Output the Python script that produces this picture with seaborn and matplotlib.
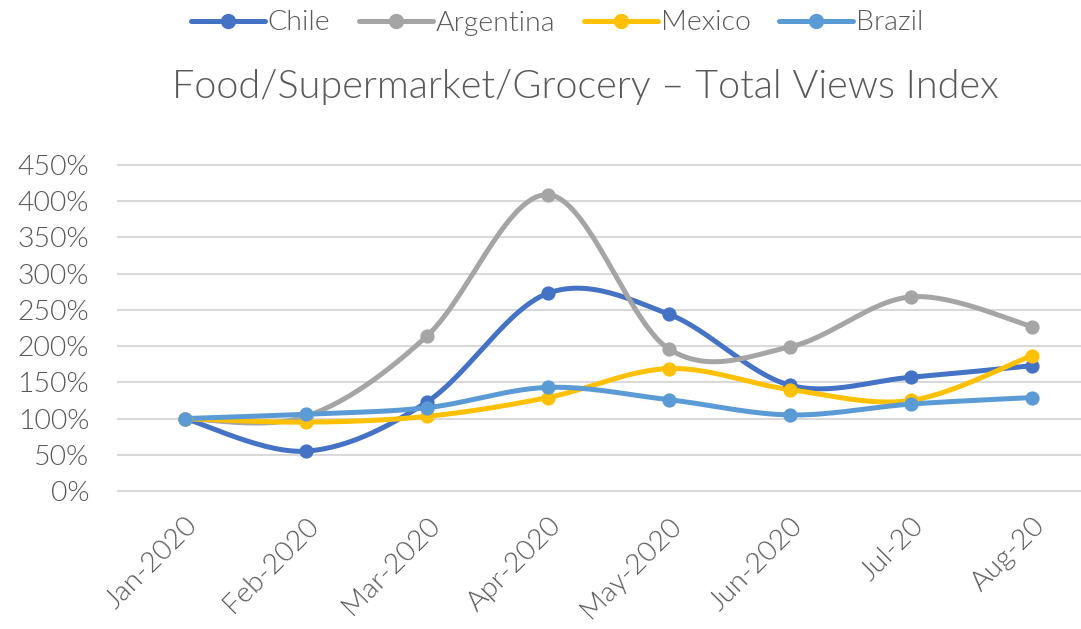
import numpy as np
import pandas as pd
import matplotlib
matplotlib.use("Agg")
import matplotlib.pyplot as plt
import seaborn as sns
from matplotlib.lines import Line2D

months = ["Jan-2020", "Feb-2020", "Mar-2020", "Apr-2020", "May-2020", "Jun-2020", "Jul-20", "Aug-20"]
chile = [1.00, 0.55, 1.23, 2.73, 2.44, 1.46, 1.57, 1.73]
argentina = [1.00, 1.03, 2.14, 4.09, 1.96, 1.99, 2.68, 2.27]
mexico = [1.00, 0.95, 1.03, 1.29, 1.69, 1.40, 1.25, 1.87]
brazil = [1.00, 1.06, 1.15, 1.43, 1.26, 1.05, 1.20, 1.29]
yticks = [0, 0.5, 1.0, 1.5, 2.0, 2.5, 3.0, 3.5, 4.0, 4.5]

series = {"Chile": chile, "Argentina": argentina, "Mexico": mexico, "Brazil": brazil}
colors = {"Chile": "#4472C4", "Argentina": "#A5A5A5", "Mexico": "#FFC000", "Brazil": "#5B9BD5"}

sns.set_style("white")
plt.rcParams["font.family"] = ["Lato", "DejaVu Sans"]
WT = 300
plt.rcParams["font.weight"] = WT
TXT = "#595959"

def smooth(x, y, n=30):
    x = np.asarray(x, float); y = np.asarray(y, float)
    P = np.column_stack([x, y])
    Pe = np.vstack([P[0], P, P[-1]])
    out = []
    for i in range(len(P) - 1):
        p0, p1, p2, p3 = Pe[i], Pe[i + 1], Pe[i + 2], Pe[i + 3]
        c1 = p1 + (p2 - p0) / 6.0
        c2 = p2 - (p3 - p1) / 6.0
        t = np.linspace(0, 1, n)[:, None]
        seg = (1 - t) ** 3 * p1 + 3 * (1 - t) ** 2 * t * c1 + 3 * (1 - t) * t ** 2 * c2 + t ** 3 * p2
        out.append(seg if i == 0 else seg[1:])
    s = np.vstack(out)
    return s[:, 0], s[:, 1]

fig = plt.figure(figsize=(10.81, 6.29), dpi=100)
W, H = 1081, 629
left_px, right_px = 117, 1081
top_px, bot_px = 161, 495
ax = fig.add_axes([left_px / W, 1 - bot_px / H, (right_px - left_px) / W, (bot_px - top_px) / H])

xpos = np.arange(len(months))
handles = []
for name, vals in series.items():
    sx, sy = smooth(xpos, vals)
    df = pd.DataFrame({"x": sx, "y": sy})
    sns.lineplot(data=df, x="x", y="y", ax=ax, color=colors[name], linewidth=3.6,
                 sort=False, estimator=None, solid_capstyle="round")
    dm = pd.DataFrame({"x": xpos, "y": vals})
    sns.scatterplot(data=dm, x="x", y="y", ax=ax, color=colors[name], s=105,
                    edgecolor=colors[name], linewidth=0, zorder=3)
    handles.append(Line2D([0], [0], color=colors[name], lw=3.6, marker="o", markersize=10,
                          label=name))

ppu = (491 - 165) / 4.5
ax.set_ylim(-(495 - 491) / ppu, 4.5 + (165 - 161) / ppu)
spacing = (1032 - 185) / 7
ax.set_xlim(-(185 - left_px) / spacing, 7 + (right_px - 1032) / spacing)
ax.set_yticks(yticks)
ax.set_yticklabels([f"{int(round(v * 100))}%" for v in yticks])
ax.set_xticks(xpos)
ax.set_xticklabels(months, rotation=45, ha="right", rotation_mode="anchor")
ax.yaxis.grid(True, color="#D9D9D9", linewidth=1.5)
ax.xaxis.grid(False)
for sp in ax.spines.values():
    sp.set_visible(False)
ax.tick_params(axis="y", length=0, labelsize=20.5, labelcolor=TXT, pad=20)
ax.tick_params(axis="x", length=0, labelsize=20.5, labelcolor=TXT, pad=13)
for lab in ax.get_xticklabels() + ax.get_yticklabels():
    lab.set_fontweight(WT)
ax.set_xlabel("")
ax.set_ylabel("")

fig.text(585 / W, 1 - 87 / H, "Food/Supermarket/Grocery \u2013 Total Views Index",
         ha="center", va="center", fontsize=28.5, color=TXT, fontweight=WT)
fig.legend(handles=handles, loc="center", bbox_to_anchor=(557 / W, 1 - 23 / H), ncol=4,
           frameon=False, prop={"size": 20.5, "weight": WT}, labelcolor=TXT, handlelength=2.6,
           handletextpad=0.1, columnspacing=1.0)

fig.savefig("out.png", dpi=100)
